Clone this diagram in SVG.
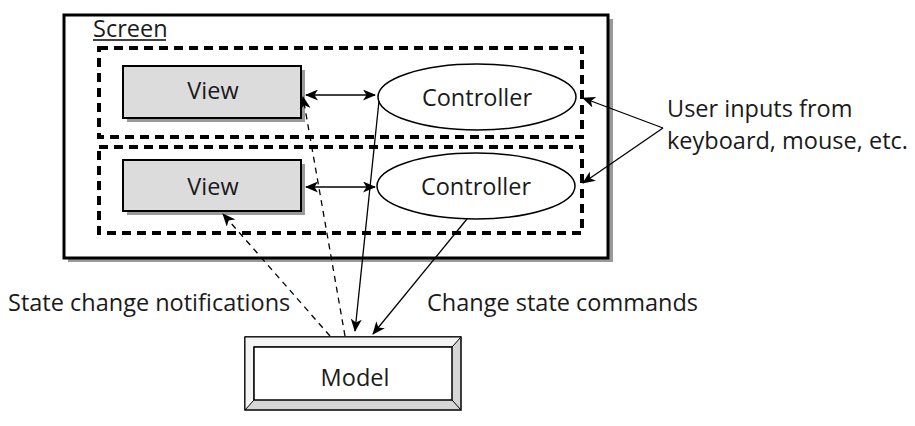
<svg xmlns="http://www.w3.org/2000/svg" width="915" height="426" viewBox="0 0 915 426">
<style>
text{font-family:"Open Sans","Liberation Sans",sans-serif;font-size:23.5px;fill:#1a1a1a}
.dash{fill:none;stroke:#000;stroke-width:4;stroke-dasharray:9,6}
.view{fill:#dcdcdc;stroke:#000;stroke-width:2}
.shadow{fill:#9a9a9a}
.ell{fill:#fff;stroke:#000;stroke-width:1.5}
.ln{fill:none;stroke:#000;stroke-width:1.3}
.dl{fill:none;stroke:#000;stroke-width:1.3;stroke-dasharray:6,5}
</style>
<defs>
<marker id="ah" viewBox="0 0 13 11" refX="12" refY="5.5" markerWidth="13" markerHeight="11" markerUnits="userSpaceOnUse" orient="auto-start-reverse">
<path d="M0,0 L13,5.5 L0,11 L3.5,5.5 Z" fill="#000"/>
</marker>
</defs>
<rect width="915" height="426" fill="#fff"/>
<g id="screen">
<rect x="68" y="19" width="545" height="243" class="shadow"/>
<rect x="64" y="15" width="544" height="243" fill="#fff" stroke="#000" stroke-width="3"/>
<text x="93" y="37" font-size="21">Screen</text>
<line x1="93" y1="40" x2="166" y2="40" stroke="#000" stroke-width="1.5"/>
<rect x="99" y="48" width="483" height="89" class="dash"/>
<rect x="99" y="147" width="483" height="86" class="dash"/>
</g>
<g id="view1">
<rect x="127" y="70" width="178" height="52" class="shadow"/>
<rect x="123" y="66" width="178" height="52" class="view"/>
<text x="213" y="99" text-anchor="middle">View</text>
</g>
<g id="view2">
<rect x="127" y="164" width="178" height="51" class="shadow"/>
<rect x="123" y="160" width="178" height="51" class="view"/>
<text x="213" y="195" text-anchor="middle">View</text>
</g>
<g id="controller1">
<ellipse cx="477" cy="97" rx="99" ry="33" class="ell"/>
<text x="477" y="106" text-anchor="middle">Controller</text>
</g>
<g id="controller2">
<ellipse cx="476" cy="186" rx="99" ry="33" class="ell"/>
<text x="476" y="195" text-anchor="middle">Controller</text>
</g>
<g id="model">
<rect x="245" y="337" width="216" height="73" fill="#d6d6d6" stroke="#000" stroke-width="1.5"/>
<path d="M245,337 L461,337 L452,347 L254,347 L254,400 L245,410 Z" fill="#f4f4f4" stroke="#000" stroke-width="1"/>
<rect x="254" y="347" width="198" height="53" fill="#fff" stroke="#000" stroke-width="1.5"/>
<line x1="452" y1="400" x2="461" y2="410" stroke="#000" stroke-width="1"/>
<text x="355" y="386" text-anchor="middle">Model</text>
</g>
<g id="labels">
<text x="8" y="311">State change notifications</text>
<text x="427" y="311">Change state commands</text>
<text x="667" y="117">User inputs from</text>
<text x="667" y="149">keyboard, mouse, etc.</text>
</g>
<g id="connectors">
<line x1="306" y1="95" x2="375" y2="95" class="ln" marker-start="url(#ah)" marker-end="url(#ah)"/>
<line x1="306" y1="187" x2="375" y2="187" class="ln" marker-start="url(#ah)" marker-end="url(#ah)"/>
<line x1="345" y1="336" x2="303" y2="97" class="dl" marker-end="url(#ah)"/>
<line x1="330" y1="336" x2="223" y2="214" class="dl" marker-end="url(#ah)"/>
<line x1="379" y1="101" x2="355" y2="331" class="ln" marker-end="url(#ah)"/>
<line x1="467" y1="219" x2="373" y2="334" class="ln" marker-end="url(#ah)"/>
<line x1="663" y1="128" x2="583" y2="98" class="ln" marker-end="url(#ah)"/>
<line x1="663" y1="128" x2="583" y2="183" class="ln" marker-end="url(#ah)"/>
</g>
</svg>
